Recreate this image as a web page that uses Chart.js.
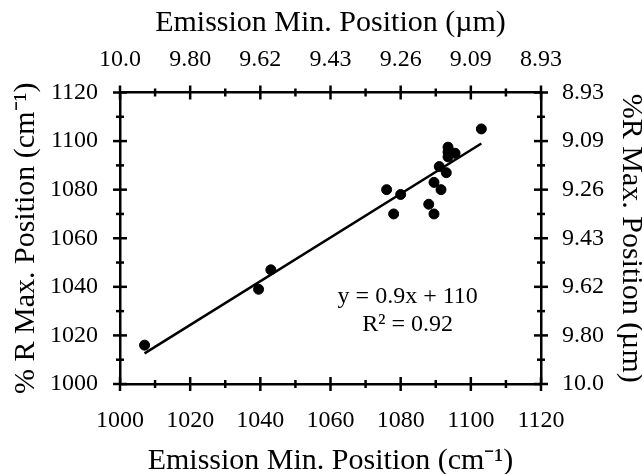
<!DOCTYPE html>
<html>
<head>
<meta charset="utf-8">
<script src="https://cdn.jsdelivr.net/npm/chart.js@4/dist/chart.umd.min.js"></script>
<style>
  body { margin: 0; background: #fff; }
  canvas { display: block; }
</style>
</head>
<body>
<canvas id="myChart" width="642" height="474"></canvas>
<script>
// values
const emissionMin = [1007, 1039.5, 1043, 1076, 1078, 1080, 1088, 1089.5, 1089.5, 1091.5, 1091, 1093, 1093.5, 1093.5, 1093.5, 1095.5, 1103];
const reflMax = [1016, 1039, 1047, 1080, 1070, 1078, 1074, 1070, 1083, 1080, 1089.5, 1087, 1097.5, 1095.5, 1093.5, 1095, 1105];

// trend line ends, as drawn
const trendX = [1007, 1103];
const trendY = [1012.6, 1099];

// wavelength labels for the top and right axes (um), one per major tick
const topTickLabels = ['10.0', '9.80', '9.62', '9.43', '9.26', '9.09', '8.93'];
const rightTickLabels = ['10.0', '9.80', '9.62', '9.43', '9.26', '9.09', '8.93'];

const fitText = ['y = 0.9x + 110', 'R\u00b2 = 0.92'];
const fitTextAt = {x: 1082, y: 1036};

const FONT = "'Liberation Serif', 'Times New Roman', serif";
const tickFont = {family: FONT, size: 24};
const titleFont = {family: FONT, size: 30};

const points = emissionMin.map((x, i) => ({x: x, y: reflMax[i]}));
const trend = trendX.map((x, i) => ({x: x, y: trendY[i]}));

// cross-shaped tick marks (major + minor) on all four sides
const crossTicks = {
    id: 'crossTicks',
    afterDraw(chart) {
        const ctx = chart.ctx;
        ctx.save();
        ctx.strokeStyle = '#000';
        ctx.lineWidth = 2.5;
        ['x', 'x2', 'y', 'y2'].forEach(id => {
            const s = chart.scales[id];
            for (let v = s.min; v <= s.max; v += 10) {
                const len = (v - s.min) % 20 === 0 ? 7 : 4;
                const p = s.getPixelForValue(v);
                ctx.beginPath();
                if (s.isHorizontal()) {
                    const yy = id === 'x' ? s.top : s.bottom;
                    ctx.moveTo(p, yy - len);
                    ctx.lineTo(p, yy + len);
                } else {
                    const xx = id === 'y' ? s.right : s.left;
                    ctx.moveTo(xx - len, p);
                    ctx.lineTo(xx + len, p);
                }
                ctx.stroke();
            }
        });
        ctx.restore();
    }
};

const fitLabel = {
    id: 'fitLabel',
    afterDatasetsDraw(chart) {
        const ctx = chart.ctx;
        const px = chart.scales.x.getPixelForValue(fitTextAt.x);
        const py = chart.scales.y.getPixelForValue(fitTextAt.y);
        ctx.save();
        ctx.fillStyle = '#000';
        ctx.font = `24px ${FONT}`;
        ctx.textAlign = 'center';
        ctx.textBaseline = 'middle';
        fitText.forEach((t, i) => ctx.fillText(t, px, py + i * 28.5));
        ctx.restore();
    }
};

function axisOpts(position, title, titlePad, tickPad, labelFn, size) {
    return {
        type: 'linear',
        position: position,
        min: 1000,
        max: 1120,
        grid: {display: false, drawTicks: false},
        border: {display: true, color: '#000', width: 2.5},
        ticks: {
            stepSize: 20,
            color: '#000',
            font: tickFont,
            padding: tickPad,
            maxRotation: 0,
            autoSkip: false,
            callback: labelFn
        },
        title: {
            display: true,
            text: title,
            color: '#000',
            font: titleFont,
            padding: titlePad
        },
        afterFit: function (scale) {
            if (scale.isHorizontal()) scale.height = size;
            else scale.width = size;
        }
    };
}

const ctx = document.getElementById('myChart').getContext('2d');

const myChart = new Chart(ctx, {
    type: 'scatter',
    data: {
        datasets: [{
            label: 'data',
            data: points,
            backgroundColor: '#000',
            borderColor: '#000',
            pointRadius: 5,
            pointHoverRadius: 5
        }, {
            label: 'fit',
            type: 'line',
            data: trend,
            borderColor: '#000',
            borderWidth: 2.5,
            pointRadius: 0,
            fill: false
        }]
    },
    options: {
        responsive: false,
        animation: false,
        devicePixelRatio: 1,
        layout: {padding: 0},
        plugins: {
            legend: {display: false},
            tooltip: {enabled: false}
        },
        scales: {
            x: axisOpts('bottom', 'Emission Min. Position (cm\u207b\u00b9)', {top: 0, bottom: -5},
                22, (v) => v, 90),
            x2: axisOpts('top', 'Emission Min. Position (\u00b5m)', {top: 5, bottom: 0},
                18, (v) => topTickLabels[(v - 1000) / 20], 92.5),
            y: axisOpts('left', '% R Max. Position (cm\u207b\u00b9)', {top: 8, bottom: 0},
                22, (v) => v, 120),
            y2: axisOpts('right', '%R Max. Position (\u00b5m)', {top: -7, bottom: 0},
                21, (v) => rightTickLabels[(v - 1000) / 20], 101)
        }
    },
    plugins: [crossTicks, fitLabel]
});
</script>
</body>
</html>
